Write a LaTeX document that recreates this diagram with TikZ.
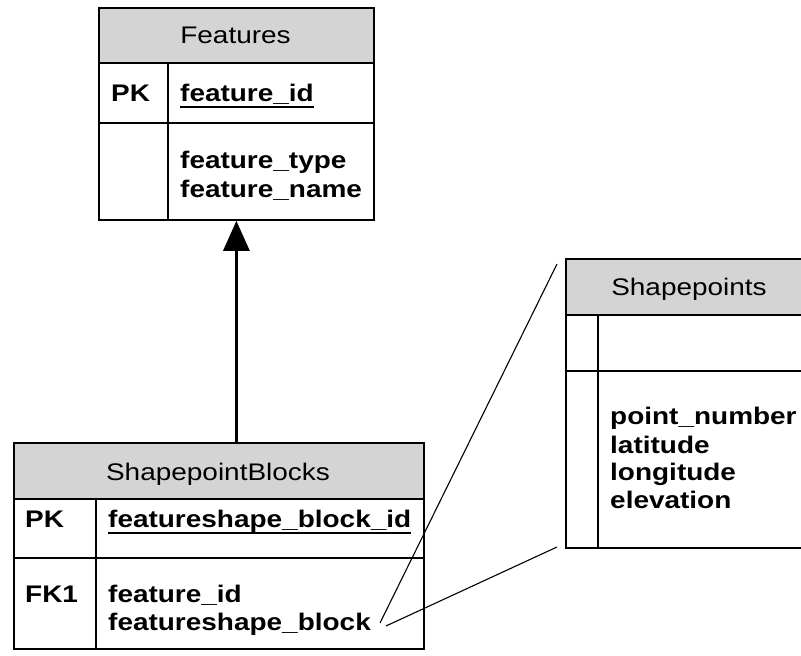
\documentclass[tikz,border=0pt]{standalone}
\usepackage{fontspec}
\setmainfont{Liberation Sans}[FakeStretch=1.165]
\usetikzlibrary{arrows.meta}
\definecolor{headgray}{RGB}{212,212,212}

\begin{document}
\begin{tikzpicture}[x=1pt,y=-1pt,
  frame/.style={draw,line width=1.8pt},
  cell/.style={frame,rectangle,inner sep=0pt,anchor=north west},
  headcell/.style={cell,fill=headgray},
  title/.style={font=\fontsize{24}{28}\selectfont,anchor=base,inner sep=0pt},
  field/.style={font=\fontsize{24}{28}\selectfont\bfseries,anchor=base west,inner sep=0pt},
  keyline/.style={line width=1.8pt},
  relline/.style={line width=1.1pt}]
\useasboundingbox (0,0) rectangle (801,656);
\clip (0,0) rectangle (801,656);

% ---- Features ----
\node[headcell,minimum width=275pt,minimum height=55pt] (fhead) at (98,7) {};
\node[cell,minimum width=275pt,minimum height=60pt] (fpk) at (98,62) {};
\node[cell,minimum width=275pt,minimum height=97pt] (fbody) at (98,122) {};
\draw[frame] (168,62) -- (168,219);
\node[title] (ftitle) at (235.5,43) {Features};
\node[field] (fpklab) at (111,101) {PK};
\node[field] (fid) at (180,101) {feature\_id};
\draw[keyline] ([yshift=-6pt]fid.base west) -- ([yshift=-6pt]fid.base east);
\node[field] (ftype) at (180,168) {feature\_type};
\node[field] (fname) at (180,197) {feature\_name};

% ---- ShapepointBlocks ----
\node[headcell,minimum width=410pt,minimum height=56pt] (bhead) at (13,442) {};
\node[cell,minimum width=410pt,minimum height=59pt] (bpk) at (13,498) {};
\node[cell,minimum width=410pt,minimum height=91pt] (bbody) at (13,557) {};
\draw[frame] (96,498) -- (96,648);
\node[title] (btitle) at (218,480) {ShapepointBlocks};
\node[field] (bpklab) at (25,527) {PK};
\node[field] (bid) at (108,527) {featureshape\_block\_id};
\draw[keyline] ([yshift=-6pt]bid.base west) -- ([yshift=-6pt]bid.base east);
\node[field] (bfklab) at (25,602) {FK1};
\node[field] (bfid) at (108,602) {feature\_id};
\node[field] (bblock) at (108,630) {featureshape\_block};

% ---- Shapepoints ----
\node[headcell,minimum width=248pt,minimum height=56pt] (shead) at (565,258) {};
\node[cell,minimum width=248pt,minimum height=56pt] (spk) at (565,314) {};
\node[cell,minimum width=248pt,minimum height=177pt] (sbody) at (565,370) {};
\draw[frame] (598,314) -- (598,547);
\node[title] (stitle) at (689,295) {Shapepoints};
\node[field] (snum) at (610,424) {point\_number};
\node[field] (slat) at (610,453) {latitude};
\node[field] (slon) at (610,480) {longitude};
\node[field] (selev) at (610,508) {elevation};

% ---- relationship ----
\draw[line width=3pt,-{Triangle[length=30pt,width=26pt]}]
  (bhead.north -| fbody.south) -- (fbody.south);

\coordinate (blockend1) at (380,623);
\coordinate (blockend2) at (386,626);
\coordinate (sptop) at (557,264);
\coordinate (spbot) at (557,547);
\draw[relline] (blockend1) -- (sptop);
\draw[relline] (blockend2) -- (spbot);
\end{tikzpicture}
\end{document}
